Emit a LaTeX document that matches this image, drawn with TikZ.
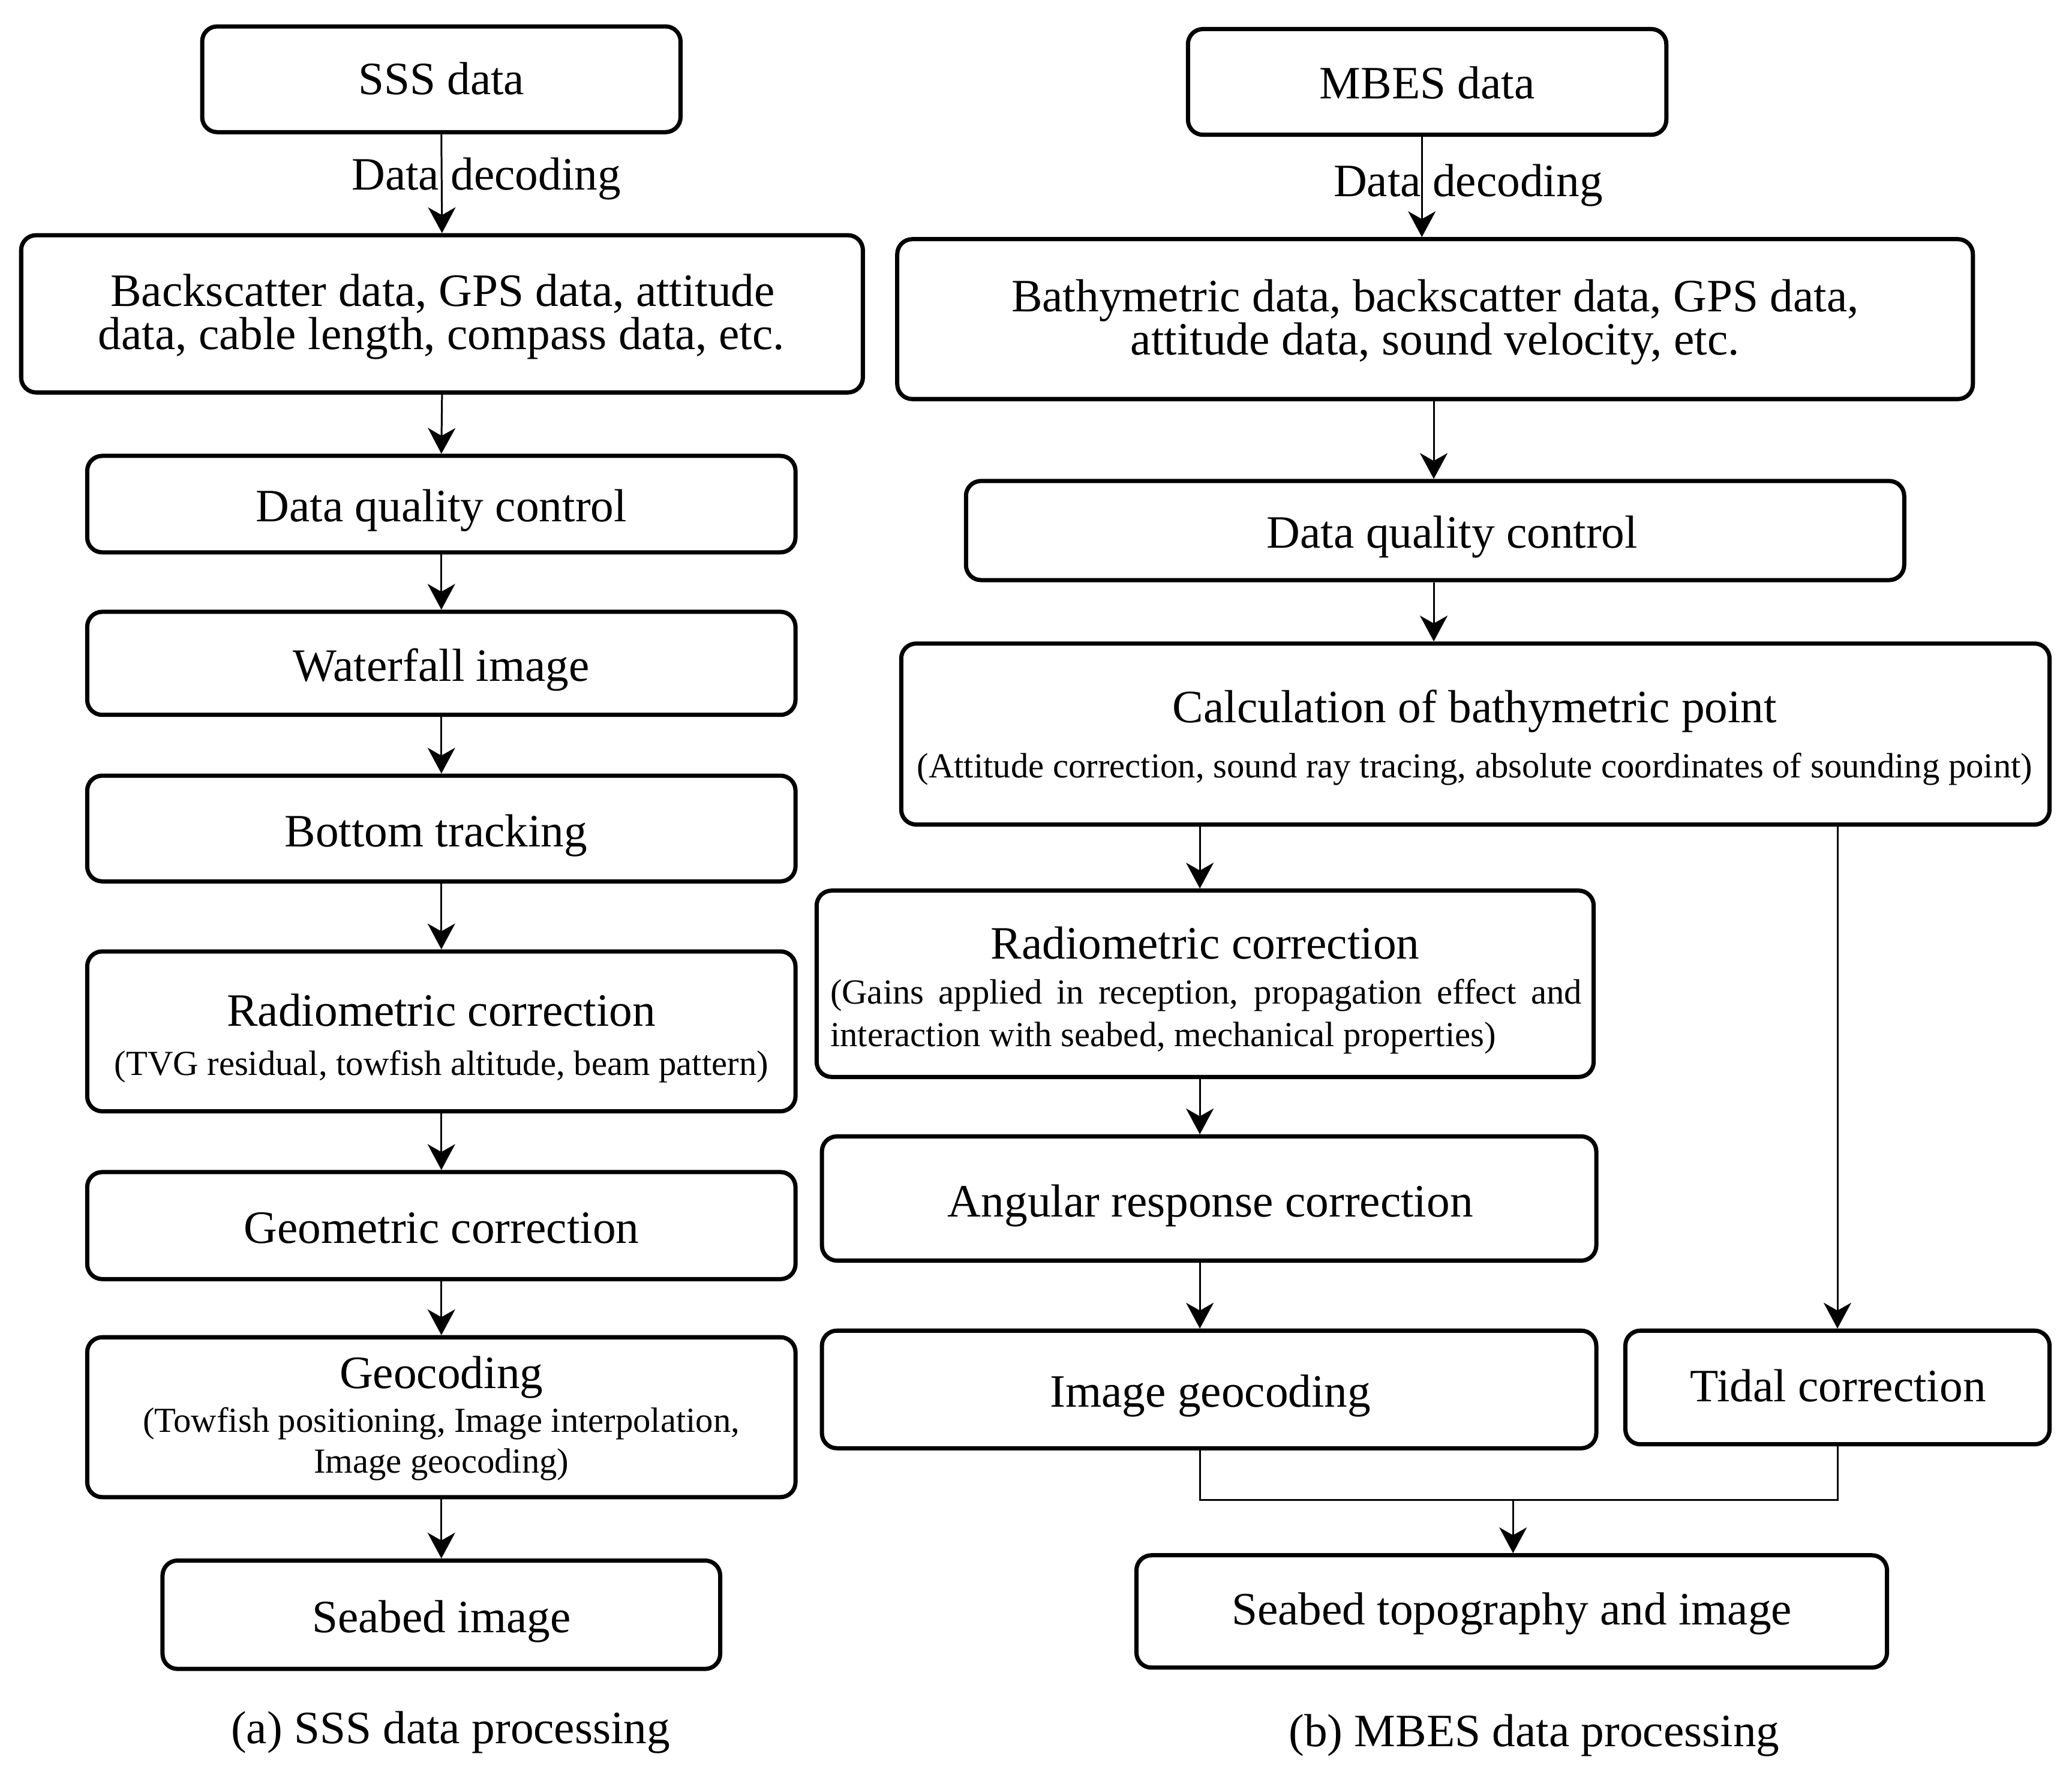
\documentclass[tikz,border=0pt]{standalone}
\usepackage{fontspec}
\setmainfont{Liberation Serif}
\usetikzlibrary{arrows.meta}
\newcommand\rbox[5]{\node[rbox, minimum width={(#4-#2)*0.022028cm}, minimum height={(#5-#3)*0.022028cm}] (#1) at ({(#2+#4)/2},{(#3+#5)/2}) {};}
\begin{document}
\begin{tikzpicture}[x=0.022028cm, y=-0.022028cm,
  rbox/.style={draw, line width=2pt, rounded corners=0.25cm, inner sep=0pt},
  main/.style={font=\fontsize{22}{24}\selectfont, inner sep=0pt, text height=14.6pt, text depth=0pt},
  sub/.style={font=\fontsize{16.7}{19}\selectfont, inner sep=0pt, text height=11pt, text depth=0pt},
  conn/.style={line width=0.85pt},
  arr/.style={conn, -{Stealth[length=0.43cm, width=0.46cm, inset=0.13cm]}}]
\useasboundingbox (0,0) rectangle (1568,1343);
% ---------- left column ----------
\rbox{sss}{153}{20}{515}{100}
\rbox{bs}{16}{178}{653}{297}
\rbox{dqc}{66}{345}{602}{418}
\rbox{wf}{66}{463}{602}{541}
\rbox{bt}{66}{587}{602}{667}
\rbox{rad}{66}{720}{602}{841}
\rbox{geo}{66}{887}{602}{968}
\rbox{gc}{66}{1012}{602}{1133}
\rbox{sb}{123}{1181}{545}{1263}
\node[main] (tsss) at (334,60) {SSS data};
\node[main] (tdd1) at (368,132) {Data decoding};
\node[main] (tbs1) at (335,220) {Backscatter data, GPS data, attitude};
\node[main] (tbs2) at (334,253) {data, cable length, compass data, etc.};
\node[main] (tdqc) at (334,383) {Data quality control};
\node[main] (twf) at (334,504) {Waterfall image};
\node[main] (tbt) at (330,629) {Bottom tracking};
\node[main] (trad) at (334,765) {Radiometric correction};
\node[sub] (trads) at (334,805) {(TVG residual, towfish altitude, beam pattern)};
\node[main] (tgeo) at (334,929) {Geometric correction};
\node[main] (tgc) at (334,1039) {Geocoding};
\node[sub] (tgc1) at (334,1075) {(Towfish positioning, Image interpolation,};
\node[sub] (tgc2) at (334,1106) {Image geocoding)};
\node[main] (tsb) at (334,1224) {Seabed image};
\node[main] (capa) at (341,1308) {(a) SSS data processing};
\draw[arr] (sss.south) -- (bs.north);
\draw[arr] (bs.south) -- (dqc.north);
\draw[arr] (dqc.south) -- (wf.north);
\draw[arr] (wf.south) -- (bt.north);
\draw[arr] (bt.south) -- (rad.north);
\draw[arr] (rad.south) -- (geo.north);
\draw[arr] (geo.south) -- (gc.north);
\draw[arr] (gc.south) -- (sb.north);
% ---------- right column ----------
\rbox{mb}{899}{22}{1261}{102}
\rbox{bath}{679}{181}{1493}{302}
\rbox{dqcb}{731}{364}{1441}{439}
\rbox{calc}{682}{487}{1551}{624}
\rbox{radb}{618}{674}{1206}{815}
\rbox{ang}{622}{860}{1208}{954}
\rbox{ig}{622}{1007}{1208}{1096}
\rbox{tid}{1230}{1007}{1551}{1093}
\rbox{st}{860}{1177}{1428}{1262}
\node[main] (tmb) at (1080,63) {MBES data};
\node[main] (tdd2) at (1111,137) {Data decoding};
\node[main] (tbath1) at (1086,224) {Bathymetric data, backscatter data, GPS data,};
\node[main] (tbath2) at (1086,257) {attitude data, sound velocity, etc.};
\node[main] (tdqcb) at (1099,403) {Data quality control};
\node[main] (tcalc) at (1116,535) {Calculation of bathymetric point};
\node[sub] (tcalcs) at (1116,580) {(Attitude correction, sound ray tracing, absolute coordinates of sounding point)};
\node[main] (tradb) at (912,714) {Radiometric correction};
\node[sub, anchor=west] (tradb1) at (628,751) {\makebox[12.53cm][s]{(Gains applied in reception, propagation effect and}};
\node[sub, anchor=west] (tradb2) at (628,783) {interaction with seabed, mechanical properties)};
\node[main] (tang) at (916,909) {Angular response correction};
\node[main] (tig) at (916,1053) {Image geocoding};
\node[main] (ttid) at (1391,1049) {Tidal correction};
\node[main] (tst) at (1144,1218) {Seabed topography and image};
\node[main] (capb) at (1161,1310) {(b) MBES data processing};
\coordinate (xa) at (1076,0);
\coordinate (xb) at (1085,0);
\coordinate (xc) at (908,0);
\coordinate (jn) at (1145,1135);
\draw[arr] (mb.south -| xa) -- (bath.north -| xa);
\draw[arr] (bath.south -| xb) -- (dqcb.north -| xb);
\draw[arr] (dqcb.south -| xb) -- (calc.north -| xb);
\draw[arr] (calc.south -| xc) -- (radb.north -| xc);
\draw[arr] (radb.south -| xc) -- (ang.north -| xc);
\draw[arr] (ang.south -| xc) -- (ig.north -| xc);
\draw[arr] (calc.south -| tid.north) -- (tid.north);
\draw[conn] (ig.south -| xc) |- (jn) -| (tid.south);
\draw[arr] (jn) -- (jn |- st.north);
\end{tikzpicture}
\end{document}
